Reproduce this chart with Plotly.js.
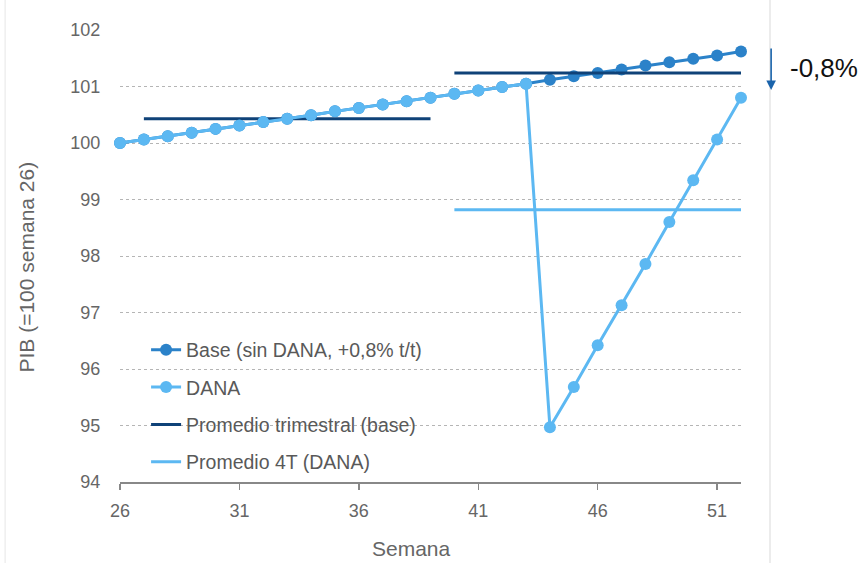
<!DOCTYPE html>
<html>
<head>
<meta charset="utf-8">
<script src="https://cdn.plot.ly/plotly-3.0.1.min.js"></script>
<style>html,body{margin:0;padding:0;background:#fff;}#chart{width:866px;height:563px;}</style>
</head>
<body>
<div id="chart"></div>
<script>
// Data
const weeks = [26,27,28,29,30,31,32,33,34,35,36,37,38,39,40,41,42,43,44,45,46,47,48,49,50,51,52];
const baseSeries = [100.00,100.06,100.12,100.18,100.25,100.31,100.37,100.43,100.49,100.56,100.62,100.68,100.74,100.80,100.87,100.93,100.99,101.05,101.12,101.18,101.24,101.30,101.37,101.43,101.49,101.55,101.62];
const danaSeries = [100.00,100.06,100.12,100.18,100.25,100.31,100.37,100.43,100.49,100.56,100.62,100.68,100.74,100.80,100.87,100.93,100.99,101.05,94.97,95.68,96.42,97.13,97.86,98.60,99.34,100.06,100.80];
// quarterly averages: [start week, end week] and value
const q3Weeks = [27, 39];
const q4Weeks = [40, 52];
const avgBaseQ3 = 100.43;
const avgBaseQ4 = 101.24;
const avgDanaQ4 = 98.82;
const xTicks = [26,31,36,41,46,51];
const yTicks = [94,95,96,97,98,99,100,101,102];
const labels = {
  base: 'Base (sin DANA, +0,8% t/t)',
  dana: 'DANA',
  avgBase: 'Promedio trimestral (base)',
  avgDana: 'Promedio 4T (DANA)',
  xTitle: 'Semana',
  yTitle: 'PIB (=100 semana 26)',
  delta: '-0,8%'
};

const cBase = '#2b82c9';
const cDana = '#5cb8f2';
const cNavy = '#0f4278';
const font = 'Liberation Sans, Arial, sans-serif';

const traces = [
  {x: weeks, y: baseSeries, name: labels.base, mode: 'lines+markers', legendrank: 1, legendgroup: 'a',
   line: {color: cBase, width: 3}, marker: {color: cBase, size: 12}, cliponaxis: false},
  {x: [q3Weeks[0], q3Weeks[1], null, q4Weeks[0], q4Weeks[1]], y: [avgBaseQ3, avgBaseQ3, null, avgBaseQ4, avgBaseQ4],
   name: labels.avgBase, mode: 'lines', legendrank: 3, legendgroup: 'c', line: {color: cNavy, width: 3}, cliponaxis: false},
  {x: [q4Weeks[0], q4Weeks[1]], y: [avgDanaQ4, avgDanaQ4], name: labels.avgDana, mode: 'lines', legendrank: 4, legendgroup: 'd',
   line: {color: cDana, width: 3}, cliponaxis: false},
  {x: weeks, y: danaSeries, name: labels.dana, mode: 'lines+markers', legendrank: 2, legendgroup: 'b',
   line: {color: cDana, width: 3}, marker: {color: cDana, size: 12}, cliponaxis: false}
];

const layout = {
  width: 866, height: 563,
  margin: {l: 120, r: 125, t: 30, b: 81, pad: 0},
  paper_bgcolor: '#fff', plot_bgcolor: '#fff',
  font: {family: font, color: '#666', size: 18},
  showlegend: true,
  legend: {x: 0.042, y: 0.335, xanchor: 'left', yanchor: 'top', bgcolor: 'rgba(0,0,0,0)',
           font: {size: 19.5, color: '#595959'}, traceorder: 'grouped', tracegroupgap: 9},
  xaxis: {range: [26, 52], tickvals: xTicks, ticks: 'outside', ticklen: 6, tickwidth: 1.5, tickcolor: '#888',
          showline: true, linecolor: '#888', linewidth: 1.5, showgrid: false, zeroline: false,
          tickfont: {size: 18, color: '#666'}, ticklabelstandoff: 6},
  yaxis: {range: [94, 102], tickvals: yTicks, showgrid: true, gridcolor: '#b5b5b5', griddash: 'dot', gridwidth: 1,
          zeroline: false, showline: false, ticks: 'outside', ticklen: 15, tickcolor: 'rgba(0,0,0,0)',
          tickfont: {size: 18, color: '#666'}},
  shapes: [
    {type: 'line', xref: 'paper', yref: 'paper', x0: 1.0467, x1: 1.0467, y0: -0.2, y1: 1.1, line: {color: '#d9d9d9', width: 1}},
    {type: 'line', xref: 'paper', yref: 'paper', x0: -0.185, x1: -0.185, y0: -0.2, y1: 1.1, line: {color: '#e6e6e6', width: 1}}
  ],
  annotations: [
    {xref: 'paper', yref: 'paper', x: 0.4686, y: -0.1475, text: labels.xTitle, showarrow: false,
     font: {size: 21, color: '#666'}, xanchor: 'center', yanchor: 'middle'},
    {xref: 'paper', yref: 'paper', x: -0.151, y: 0.475, text: labels.yTitle, showarrow: false, textangle: -90,
     font: {size: 21, color: '#666'}, xanchor: 'center', yanchor: 'middle'},
    {xref: 'paper', yref: 'paper', x: 1.0485, y: 0.867, text: '', showarrow: true, ax: 0, ay: -43,
     arrowhead: 2, arrowsize: 1.2, arrowwidth: 1.6, arrowcolor: '#1a63ab'},
    {xref: 'paper', yref: 'paper', x: 1.0757, y: 0.916, text: labels.delta, showarrow: false, xanchor: 'left', yanchor: 'middle',
     font: {size: 26, color: '#111'}},
    {xref: 'paper', yref: 'paper', x: 0.567, y: 1.08, text: '(', showarrow: false, xanchor: 'center', yanchor: 'bottom',
     font: {size: 20, color: '#19a4a8'}},
    {xref: 'paper', yref: 'paper', x: 1.058, y: 1.08, text: ')', showarrow: false, xanchor: 'center', yanchor: 'bottom',
     font: {size: 20, color: '#19a4a8'}}
  ]
};

Plotly.newPlot('chart', traces, layout, {displayModeBar: false, staticPlot: true});
</script>
</body>
</html>
